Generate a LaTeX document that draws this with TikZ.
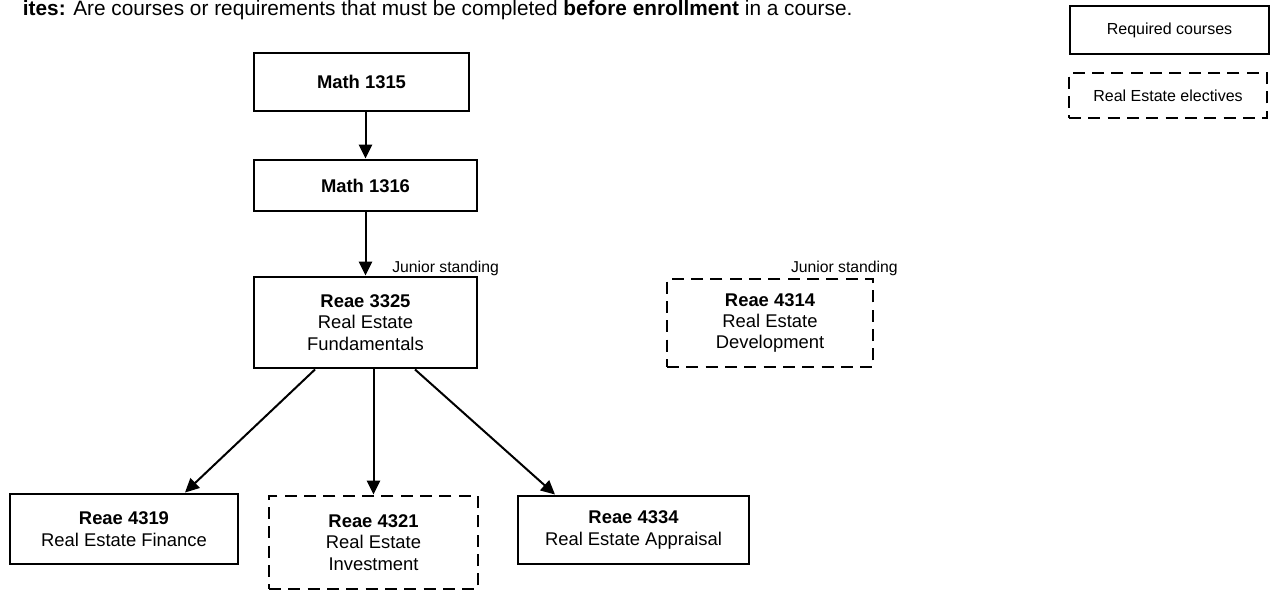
\documentclass[tikz,border=0pt]{standalone}
\usepackage{fontspec}
\setmainfont{Liberation Sans}
\usetikzlibrary{arrows.meta,calc}

\begin{document}
\begin{tikzpicture}[x=0.75pt,y=-0.75pt]
	\tikzstyle{every node}+=[inner sep=0pt]
	\tikzstyle{boxsize}=[minimum width=#1*0.75pt]
	\tikzstyle{course}=[draw,line width=2.2pt,align=center,font=\fontsize{13.8}{16}\selectfont]
	\tikzstyle{elective}=[course,dash pattern=on 9pt off 5.5pt]
	\tikzstyle{legend}=[draw,line width=2.2pt,font=\fontsize{12}{14}\selectfont]
	\tikzstyle{prereq}=[-{Triangle[length=10.5pt,width=10pt]},line width=1.5pt]
	\tikzstyle{note}=[font=\fontsize{11.8}{14}\selectfont]
	\useasboundingbox (0,0) rectangle (1272,590);
	% heading, cut at the left edge
	\node [anchor=base east,font=\fontsize{15.6}{18}\selectfont\bfseries] (headA) at (66,15) {ites:};
	\node [anchor=base west,font=\fontsize{15.6}{18}\selectfont] (headB) at (73,15) {Are courses or requirements that must be completed \textbf{before enrollment} in a course.};
	% courses
	\node [course,boxsize=215,minimum height=43.5pt] (m1315) at (361.5,82) {\textbf{Math 1315}};
	\node [course,boxsize=223,minimum height=38.25pt] (m1316) at (365.5,185.5) {\textbf{Math 1316}};
	\node [course,boxsize=223,minimum height=68.25pt] (r3325) at (365.5,322.5) {\textbf{Reae 3325}\\Real Estate\\Fundamentals};
	\node [elective,boxsize=206,minimum height=66pt] (r4314) at (770,323) {\textbf{Reae 4314}\\Real Estate\\Development};
	\node [course,boxsize=228,minimum height=52.5pt] (r4319) at (124,529) {\textbf{Reae 4319}\\Real Estate Finance};
	\node [elective,boxsize=209,minimum height=69.75pt] (r4321) at (373.5,542.5) {\textbf{Reae 4321}\\Real Estate\\Investment};
	\node [course,boxsize=231,minimum height=51pt] (r4334) at (633.5,530) {\textbf{Reae 4334}\\Real Estate Appraisal};
	% notes
	\node [note,anchor=west] (jr3325) at (392,268) {Junior standing};
	\node [note,anchor=east] (jr4314) at (898,268) {Junior standing};
	% legend
	\node [legend,boxsize=199,minimum height=36pt] (lgReq) at (1169.5,30) {Required courses};
	\node [legend,dash pattern=on 9pt off 5.5pt,boxsize=198,minimum height=33.75pt] (lgElec) at (1168,95.5) {Real Estate electives};
	% arrows
	\draw [prereq] (m1315.south -| m1316.north) -- (m1316.north);
	\draw [prereq] (m1316.south) -- (r3325.north);
	\draw [prereq] ($(r3325.south)+(-50.5,0)$) -- ($(r4319.north)+(61,0)$);
	\draw [prereq] (r3325.south -| r4321.north) -- (r4321.north);
	\draw [prereq] ($(r3325.south)+(49.5,0)$) -- ($(r4334.north)+(-78.5,0)$);
\end{tikzpicture}
\end{document}
